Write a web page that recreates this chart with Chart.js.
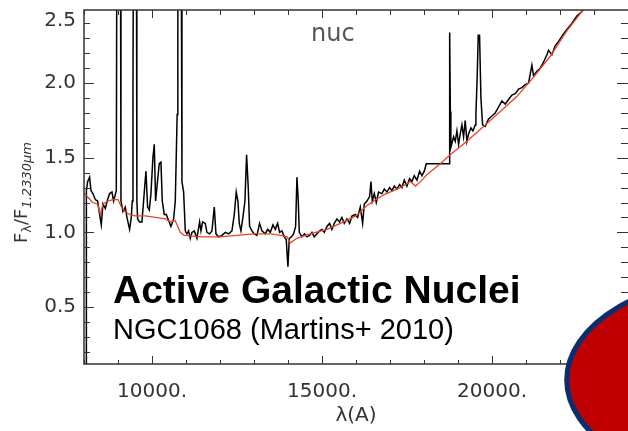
<!DOCTYPE html>
<html>
<head>
<meta charset="utf-8">
<script src="https://cdn.jsdelivr.net/npm/chart.js@4.4.1/dist/chart.umd.min.js"></script>
<style>
  html, body { margin: 0; padding: 0; background: #fff; overflow: hidden; }
  #wrap { width: 628px; height: 431px; }
</style>
</head>
<body>
<div id="wrap"><canvas id="chart" width="628" height="431"></canvas></div>
<script>
// observed nuclear spectrum (wavelength in A, normalised flux)
const waveObs = [8065, 8070, 8107, 8165, 8205, 8263, 8332, 8401, 8459, 8508, 8557, 8626, 8695, 8753, 8822, 8871,
  8950, 8971, 9069, 9087, 9145, 9214, 9263, 9341, 9390, 9420, 9441, 9460, 9538, 9555, 9577, 9635, 9704, 9753,
  9822, 9871, 9920, 9969, 10027, 10067, 10106, 10165, 10214, 10263, 10302, 10361, 10420, 10488, 10557, 10636,
  10685, 10740, 10760, 10853, 10881, 10930, 10979, 11028, 11077, 11126, 11175, 11244, 11322, 11400, 11440, 11489,
  11567, 11616, 11694, 11763, 11832, 11881, 11959, 12057, 12155, 12253, 12351, 12420, 12478, 12527, 12567, 12616,
  12674, 12733, 12782, 12831, 12870, 12939, 13008, 13086, 13164, 13233, 13331, 13401, 13479, 13557, 13626, 13695,
  13753, 13822, 13891, 13949, 13998, 14038, 14096, 14165, 14224, 14263, 14302, 14332, 14410, 14488, 14557, 14635,
  14704, 14773, 14851, 14929, 14998, 15067, 15145, 15223, 15292, 15361, 15439, 15517, 15586, 15655, 15733, 15812,
  15880, 15978, 16048, 16126, 16195, 16244, 16322, 16400, 16440, 16479, 16538, 16596, 16665, 16763, 16832, 16910,
  16988, 17057, 17126, 17204, 17282, 17351, 17420, 17498, 17576, 17645, 17714, 17792, 17870, 17939, 18008, 18066,
  18745, 18755, 18775, 18790, 18870, 18919, 18968, 19017, 19066, 19115, 19164, 19213, 19262, 19311, 19380, 19438,
  19507, 19527, 19566, 19595, 19634, 19674, 19723, 19801, 19899, 19997, 20095, 20193, 20291, 20389, 20487, 20585,
  20683, 20781, 20879, 20977, 21075, 21173, 21222, 21320, 21418, 21516, 21614, 21663, 21761, 21859, 21957, 22104,
  22202, 22349, 22496, 22643, 22741, 22900];
const fluxObs = [0.00, 1.28, 1.34, 1.37, 1.28, 1.26, 1.22, 1.21, 1.12, 1.05, 1.19, 1.16, 1.22, 1.26, 1.27, 1.21,
  1.28, 3.50, 3.50, 1.21, 1.14, 1.17, 1.10, 1.02, 1.10, 1.21, 1.99, 3.50, 3.50, 1.21, 1.09, 1.07, 1.07, 1.21,
  1.41, 1.17, 1.15, 1.26, 1.50, 1.59, 1.21, 1.35, 1.46, 1.47, 1.21, 1.12, 1.12, 1.08, 1.04, 1.09,
  1.21, 1.79, 3.50, 3.50, 1.34, 1.27, 1.01, 0.99, 1.01, 0.96, 1.00, 1.01, 0.96, 1.07, 1.01, 1.07,
  1.06, 1.00, 0.99, 1.01, 1.17, 0.99, 0.97, 0.98, 1.00, 0.99, 1.01, 1.12, 1.27, 1.21, 1.06, 1.01,
  1.10, 1.21, 1.52, 1.30, 1.04, 1.01, 0.99, 0.98, 1.06, 1.01, 0.99, 1.02, 1.00, 1.05, 1.02, 1.06,
  1.00, 1.01, 0.97, 0.95, 0.77, 0.96, 0.97, 0.99, 1.04, 1.37, 1.21, 1.00, 0.97, 0.99, 0.97, 0.98,
  1.00, 0.97, 0.99, 1.01, 1.02, 1.00, 1.04, 1.06, 1.02, 1.06, 1.09, 1.07, 1.10, 1.06, 1.09, 1.06,
  1.11, 1.12, 1.10, 1.17, 1.06, 1.19, 1.21, 1.24, 1.34, 1.21, 1.26, 1.20, 1.27, 1.26, 1.29, 1.27,
  1.30, 1.28, 1.31, 1.29, 1.32, 1.30, 1.35, 1.31, 1.36, 1.34, 1.38, 1.35, 1.41, 1.38, 1.41, 1.46,
  1.46, 2.34, 1.81, 1.57, 1.64, 1.61, 1.68, 1.59, 1.66, 1.72, 1.64, 1.75, 1.61, 1.66, 1.70, 1.68,
  1.72, 1.79, 2.06, 2.32, 2.32, 1.90, 1.72, 1.71, 1.76, 1.78, 1.80, 1.84, 1.88, 1.86, 1.89, 1.92,
  1.93, 1.96, 1.97, 1.99, 2.00, 2.12, 2.05, 2.08, 2.10, 2.14, 2.19, 2.22, 2.19, 2.25, 2.28, 2.33,
  2.36, 2.40, 2.45, 2.48, 2.51, 2.56];

// stellar population fit (red)
const waveModel = [8000, 8100, 8250, 8400, 8480, 8560, 8700, 8850, 9000, 9100, 9200, 9350, 9500, 9800, 10100,
  10400, 10550, 10680, 10760, 10830, 10950, 11500, 12000, 12500, 13000, 13500, 13800, 13970, 14070, 14260, 14650,
  15150, 15635, 16000, 16322, 16800, 17300, 17600, 17750, 17900, 18100, 18478, 18772, 19262, 19752, 20242, 20732,
  21222, 21712, 22202, 22643, 22900];
const fluxModel = [1.26, 1.24, 1.20, 1.19, 1.12, 1.19, 1.21, 1.22, 1.22, 1.17, 1.14, 1.12, 1.11, 1.11, 1.10,
  1.09, 1.07, 1.08, 1.04, 1.00, 0.98, 0.97, 0.97, 0.98, 0.99, 0.99, 0.98, 0.97, 0.93, 0.96, 0.99,
  1.02, 1.07, 1.11, 1.18, 1.25, 1.30, 1.34, 1.31, 1.34, 1.39, 1.46, 1.52, 1.61, 1.71, 1.81, 1.91,
  2.04, 2.18, 2.35, 2.48, 2.56];

const xMajorTicks = [10000, 15000, 20000];
const yMajorTicks = [0.5, 1.0, 1.5, 2.0];

const axisFont = { family: 'DejaVu Sans', size: 20 };
const axisColor = '#333';

function toPoints(xs, ys) {
  return xs.map((x, i) => ({ x: x, y: ys[i] }));
}

function noPadding(scale) {
  scale.paddingTop = 0;
  scale.paddingBottom = 0;
  scale.paddingLeft = 0;
  scale.paddingRight = 0;
}

// inward tick marks, frame, rotated y title and slide overlay
const decorPlugin = {
  id: 'decor',
  afterDraw(chart) {
    const ctx = chart.ctx;
    const a = chart.chartArea;
    const xs = chart.scales.x;
    const ys = chart.scales.y;
    ctx.save();

    ctx.strokeStyle = axisColor;
    ctx.lineWidth = 1.5;
    ctx.beginPath();
    ctx.moveTo(a.right + 2, a.top);
    ctx.lineTo(a.left, a.top);
    ctx.lineTo(a.left, a.bottom);
    ctx.lineTo(a.right + 2, a.bottom);
    ctx.stroke();

    ctx.lineWidth = 1;
    ctx.beginPath();
    xs.ticks.forEach(t => {
      const px = Math.round(xs.getPixelForValue(t.value)) + 0.5;
      const major = xMajorTicks.includes(Math.round(t.value));
      ctx.moveTo(px, a.bottom);
      ctx.lineTo(px, a.bottom - (major ? 8 : 4));
      ctx.moveTo(px, a.top);
      ctx.lineTo(px, a.top + (major ? 8 : 5));
    });
    ys.ticks.forEach(t => {
      const py = Math.round(ys.getPixelForValue(t.value)) + 0.5;
      const major = yMajorTicks.some(m => Math.abs(m - t.value) < 1e-6);
      ctx.moveTo(a.left, py);
      ctx.lineTo(a.left + (major ? 10 : 6), py);
      ctx.moveTo(a.right, py);
      ctx.lineTo(a.right - (major ? 11 : 7), py);
    });
    ctx.stroke();

    // top label sits below its clipped tick
    ctx.fillStyle = axisColor;
    ctx.font = '20px "DejaVu Sans"';
    ctx.textAlign = 'right';
    ctx.textBaseline = 'middle';
    ctx.fillText('2.5', a.left - 8, ys.getPixelForValue(2.5) + 12);

    // y axis title  F_lambda / F_1.2330um
    ctx.save();
    ctx.translate(27, 243);
    ctx.rotate(-Math.PI / 2);
    ctx.textAlign = 'left';
    ctx.textBaseline = 'alphabetic';
    let cx = 0;
    const parts = [
      ['F', '18px "DejaVu Sans"', 0],
      ['λ', '13px "DejaVu Sans"', 4],
      ['/F', '18px "DejaVu Sans"', 0],
      ['1.2330μm', 'italic 13px "DejaVu Sans"', 4]
    ];
    parts.forEach(p => {
      ctx.font = p[1];
      ctx.fillText(p[0], cx, p[2]);
      cx += ctx.measureText(p[0]).width;
    });
    ctx.restore();

    ctx.font = '24px "DejaVu Sans"';
    ctx.fillStyle = '#555';
    ctx.textAlign = 'left';
    ctx.textBaseline = 'alphabetic';
    ctx.fillText('nuc', 311, 41);

    ctx.fillStyle = '#000';
    ctx.font = 'bold 39px "Liberation Sans", Arial, sans-serif';
    ctx.fillText('Active Galactic Nuclei', 113, 303);
    ctx.font = '29px "Liberation Sans", Arial, sans-serif';
    ctx.fillText('NGC1068 (Martins+ 2010)', 113, 339);

    ctx.beginPath();
    ctx.ellipse(746.7, 380, 180, 104, 0, 0, Math.PI * 2);
    ctx.fillStyle = '#c00000';
    ctx.fill();
    ctx.lineWidth = 5;
    ctx.strokeStyle = '#0c2c70';
    ctx.stroke();

    ctx.restore();
  }
};

const chart = new Chart(document.querySelector('#chart'), {
  type: 'line',
  data: {
    datasets: [
      {
        label: 'model',
        data: toPoints(waveModel, fluxModel),
        borderColor: '#e5432d',
        borderWidth: 1.3,
        pointRadius: 0,
        tension: 0
      },
      {
        label: 'nuc',
        data: toPoints(waveObs, fluxObs),
        borderColor: '#000',
        borderWidth: 1.5,
        pointRadius: 0,
        tension: 0
      }
    ]
  },
  options: {
    responsive: false,
    animation: false,
    events: [],
    layout: { padding: { top: 10, right: 0, bottom: 0, left: 0 } },
    plugins: { legend: { display: false }, tooltip: { enabled: false } },
    scales: {
      x: {
        type: 'linear',
        min: 8000,
        max: 24000,
        grid: { display: false, drawTicks: false },
        border: { display: false },
        afterFit: scale => { scale.height = 67; noPadding(scale); },
        ticks: {
          stepSize: 1000,
          autoSkip: false,
          maxRotation: 0,
          padding: 16,
          color: axisColor,
          font: axisFont,
          callback: v => xMajorTicks.includes(Math.round(v)) ? Math.round(v) + '.' : ''
        },
        title: {
          display: true,
          text: 'λ(A)',
          color: axisColor,
          font: axisFont,
          padding: { top: 0, bottom: 3 }
        }
      },
      y: {
        type: 'linear',
        min: 0.118,
        max: 2.49,
        grid: { display: false, drawTicks: false },
        border: { display: false },
        afterFit: scale => { scale.width = 84; noPadding(scale); },
        ticks: {
          stepSize: 0.1,
          includeBounds: false,
          autoSkip: false,
          padding: 8,
          color: axisColor,
          font: axisFont,
          callback: v => {
            const m = yMajorTicks.find(t => Math.abs(t - v) < 1e-6);
            return m === undefined ? '' : m.toFixed(1);
          }
        }
      }
    }
  },
  plugins: [decorPlugin]
});
</script>
</body>
</html>
